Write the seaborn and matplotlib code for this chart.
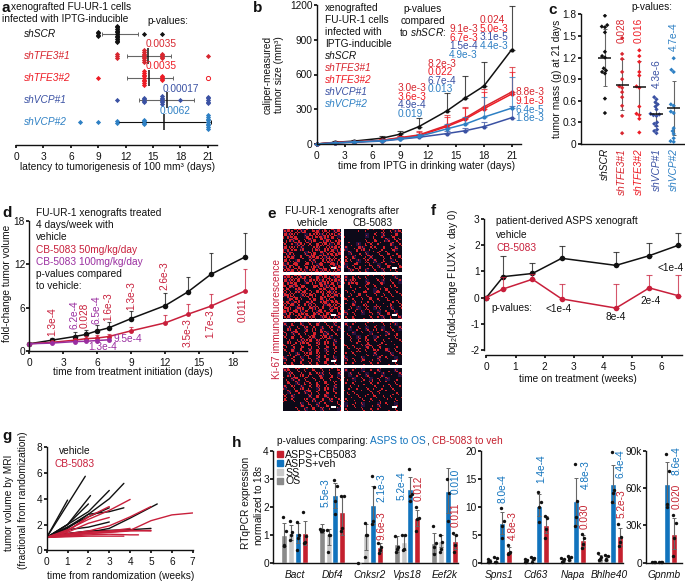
import numpy as np
import pandas as pd
import matplotlib
matplotlib.use("Agg")
import matplotlib.pyplot as plt
import seaborn as sns
from matplotlib.colors import LinearSegmentedColormap
from matplotlib.patches import Patch, Rectangle

W, H = 685, 582
FS = 7.3
BLACK = "#111111"
GREY = "#666666"
TFE1 = "#d7262f"
TFE2 = "#ee1c25"
VCP1 = "#3a51a3"
VCP2 = "#2e80c4"
CB_RED = "#c81f3b"
CB_PURPLE = "#9a2ea0"
H_BLUE = "#1173bd"
H_RED = "#c4202e"

# panel a
a_lines = ["shSCR", "shTFE3#1", "shTFE3#2", "shVCP#1", "shVCP#2"]
a_scr = [9, 9, 9, 9] + [11] * 11 + [14, 16]
a_tfe1 = [11, 11, 11] + [14] * 8 + [16] * 4 + [21]
a_tfe2 = [9] + [14] * 9 + [16] * 4
a_vcp1 = [11] + [14] * 4 + [16] * 6 + [18] + [21] * 5
a_vcp2 = [7, 9, 11, 11] + [14] * 4 + [21] * 9
a_mean = [11.3, 14.5, 14.6, 16.5, 16.2]
a_lo = [9.4, 12.1, 12.1, 13.5, 11.0]
a_hi = [13.3, 17.0, 17.2, 19.5, 21.3]

# panel b
b_days = [0, 2, 4, 7, 9, 11, 14, 16, 18, 21]
b_scr = [0, 15, 25, 50, 85, 150, 285, 397, 500, 815]
b_tfe1 = [0, 12, 18, 32, 55, 78, 160, 225, 320, 449]
b_tfe2 = [0, 12, 18, 30, 52, 72, 150, 215, 305, 432]
b_vcp1 = [0, 8, 15, 25, 42, 58, 90, 115, 150, 227]
b_vcp2 = [0, 10, 18, 28, 45, 65, 130, 172, 232, 310]
b_scr_top = [0, 22, 35, 72, 108, 222, 440, 585, 708, 1190]
b_tfe1_top = [0, 18, 25, 45, 72, 110, 250, 320, 475, 665]
b_tfe2_top = [0, 18, 25, 42, 68, 100, 235, 310, 450, 620]
b_vcp1_top = [0, 12, 20, 30, 52, 70, 110, 140, 190, 328]
b_vcp2_top = [0, 15, 24, 38, 60, 85, 170, 235, 406, 580]

# panel c
c_scr = [1.78, 1.65, 1.63, 1.62, 1.55, 1.28, 1.22, 1.20, 1.05, 1.02, 1.0, 0.98, 0.63, 0.43]
c_tfe1 = [1.47, 1.25, 1.18, 1.0, 0.9, 0.8, 0.78, 0.72, 0.65, 0.53, 0.39, 0.15]
c_tfe2 = [1.3, 1.22, 1.14, 1.0, 0.95, 0.8, 0.78, 0.52, 0.42, 0.40, 0.35, 0.16]
c_vcp1 = [.65, .62, .58, .55, .52, .48, .42, .41, .40, .39, .30, .28, .25, .20, .18, .15]
c_vcp2 = [1.19, 1.03, 1.0, .55, .53, .45, .43, .22, .18, .14, .08, .04, .03]
c_mean = [1.2, 0.82, 0.79, 0.41, 0.5]
c_lo = [0.8, 0.47, 0.42, 0.25, 0.12]
c_hi = [1.6, 1.18, 1.15, 0.57, 0.87]

# panel d
d_days = [0, 2, 4, 5, 6, 7, 9, 12, 14, 16, 19]
d_veh = [1, 1.5, 2.0, 2.3, 2.8, 3.2, 4.5, 6.3, 8.2, 10.6, 13]
d_veh_top = [1, 1.8, 2.6, 2.9, 3.6, 4.0, 5.6, 8, 10.3, 13.6, 16.4]
d_cb50 = [1, 1.2, 1.5, 1.7, 1.8, 2.0, 2.8, 3.9, 5.1, 6.2, 8.3]
d_cb50_top = [1, 1.4, 1.7, 2.1, 2.2, 2.4, 3.3, 5, 6.5, 7.9, 11.4]
d_days100 = [0, 2, 4, 5, 6, 7]
d_cb100 = [1, 1.1, 1.3, 1.35, 1.45, 1.55]
d_cb100_top = [1, 1.2, 1.5, 1.55, 1.7, 1.8]

e_vehicle = [
    ["59285806937258", "86920268959672", "29680589098526", "70269380898259", "85927008809686",
     "68200278095968", "26809168895792", "95280356096829", "68790827580697", "87968529689587"],
    ["78596870958679", "96880597689685", "68769208597968", "85096820895680", "69802869097868",
     "08692058096950", "97860895068796", "69078069580869", "88697806968707", "59086978069695"],
    ["40706050804060", "08050708070605", "50690708095040", "70806089089602", "08057890908050",
     "60807090707080", "50908060905060", "07060890805030", "60905070609050", "30708060708030"],
    ["56070506040306", "07508060750502", "30680705080704", "06040750608060", "50607040708040",
     "04080590706070", "60500070807030", "70400608090605", "00006070507004", "00050408060302"],
]
e_treated = [
    ["00010302080416", "10000105060280", "00000206014062", "03010670300805", "20186052080260",
     "05020301607020", "20603280150608", "62030804060250", "30720160308106", "05260604070360"],
    ["10620402060130", "37810310520401", "06020605030260", "20401701608020", "04080203050403",
     "60203080206010", "10702403010605", "05030802701403", "70402060308020", "20601050240706"],
    ["20300402050310", "01040206010403", "30102030104020", "05020901302060", "02070602050102",
     "60302970801030", "03080406209040", "20500304010503", "40207010602010", "10302040301020"],
    ["10302010401020", "02040301030102", "30105020403010", "10402060203040", "04020305020501",
     "20301040601030", "03040206020402", "40102050301050", "10503010402010", "20104030201030"],
]
e_dither = [[2, 6, 3], [7, 0, 8], [4, 5, 1]]

# panel f
f_weeks = [0, .58, 1.58, 2.58, 4.44, 5.58, 6.58]
f_veh = [0, .8, .92, 1.5, 1.23, 1.6, 2.0]
f_veh_top = [0, 1.57, 1.33, 1.97, 1.74, 2.07, 2.48]
f_cb = [0, .33, .7, -.05, -.4, .37, .07]
f_cb_top = [0, .8, .9, .5, .53, .88, .88]

# panel g
g_veh_x = [[0, 1], [0, 1.85], [0, 1, 2.1], [0, 1, 2], [0, 1, 2, 3], [0, 1, 2, 3, 3.7], [0, 2, 3],
           [0, 1, 2, 3, 3.7], [0, 1, 2, 3], [0, 1, 2, 3, 4, 5.3], [0, 1, 2, 3, 4, 5], [0, 1, 2, 3]]
g_veh_y = [[1, 3.9], [1, 5.75], [1, 2.0, 4.25], [1, 2, 3.6], [1, 2, 3, 4.65], [1, 1.8, 2.8, 4.0, 5.2], [1, 2.6, 3.3],
           [1, 1.7, 2.8, 3.0, 3.3], [1, 1.6, 1.8, 2.2], [1, 1.2, 1.4, 1.7, 2.5, 3.6],
           [1, 1.3, 1.45, 1.55, 1.6, 1.7], [1, 1.3, 1.5, 1.5]]
g_cb_x = [[0, 1, 2, 3, 4], [0, 1, 2, 3, 4, 5], [0, 1, 2, 3, 4, 5, 6, 7], [0, 1, 2, 3], [0, 1, 2, 3], [0, 1, 2],
          [0, 1, 2, 3, 4, 5], [0, 1, 2, 3, 4, 4.4], [0, 1, 2, 3, 3.7], [0, 1, 2, 3, 4], [0, 1, 2, 3, 4, 5]]
g_cb_y = [[1, 1.6, 2.4, 3.1, 3.95], [1, 1.3, 1.5, 1.9, 2.6, 3.4], [1, 1.2, 1.3, 1.4, 1.55, 2.3, 2.75, 2.9],
          [1, 1.5, 2.6, 3.4], [1, 1.4, 2.1, 2.55], [1, 1.5, 2.6], [1, 1.2, 1.4, 1.5, 1.55, 1.5],
          [1, 1.1, 1.2, 1.25, 1.2, 1.2], [1, 1.05, 1.1, 1.1, 1.1], [1, 1.2, 1.4, 1.5, 1.7], [1, 1.15, 1.3, 1.4, 1.5, 1.55]]

# panel h, each row is one gene, columns OS, SS, ASPS+veh, ASPS+CB5083
h_groups = ["OS", "SS", "ASPS+veh", "ASPS+CB5083"]
h1_genes = ["Bact", "Dbf4", "Cnksr2", "Vps18", "Eef2k"]
h1_mean = [[1.0, 1.05, 1.05, 1.07], [1.2, 1.02, 2.42, 1.82], [0, 1.0, 2.05, .55], [.67, .73, 2.63, 1.6], [.7, .78, 2.55, .78]]
h1_lo = [[.6, .8, .7, .63], [1.05, .65, 1.95, 1.0], [0, .45, 1.4, .4], [.4, .45, 2.2, 1.3], [.35, .55, 1.77, .5]]
h1_hi = [[1.43, 1.33, 1.43, 1.5], [1.4, 1.2, 2.85, 2.4], [0, 1.4, 2.75, .72], [.95, 1.0, 3.05, 1.9], [1.07, 1.0, 3.37, 1.0]]
h1_pts = [[[1.63, 1.15, .65, .6], [1.5, 1.1, 1.0, .8], [1.45, 1.0, .9, .45], [1.82, .95, .75, .7]],
          [[1.2, 1.18, 1.15, 1.14], [1.18, 1.0, .98, .4], [2.95, 2.75, 2.2, 1.75], [2.4, 2.38, 1.25, 1.15]],
          [[0], [1.42, 1.0, 1.0, .2], [3.08, 2.7, 1.5, 1.4], [.72, .55, .45, .35]],
          [[.95, .55, .5, .4], [1.0, 1.0, .5, .45], [3.35, 2.45, 2.4, 2.2], [2.0, 1.6, 1.55, 1.15]],
          [[1.3, .7, .55, .3], [.98, .75, .5, .4], [3.0, 2.5, 1.5], [1.05, 1.0, .63, .4]]]
h2_genes = ["Spns1", "Cd63", "Napa", "Bhlhe40"]
h2_mean = [[.3, .4, 7.1, 2.1], [.4, .7, 10.2, 6.8], [.5, .8, 11, 4], [.9, .9, 14, 4.7]]
h2_lo = [[.1, .1, 5.2, 1.5], [.2, .4, 8.3, 5.3], [.3, .5, 6.8, 2.8], [.4, .5, 10.6, 2.9]]
h2_hi = [[.6, .8, 9.0, 2.8], [.6, 1.0, 12.2, 8.3], [.7, 1.1, 15.2, 5], [1.4, 1.3, 17.5, 6.2]]
h2_pts = [[[.7, .3, .1, .05], [1.0, .9, .1, .1], [9.8, 7.5, 6.5, 4.5], [3.1, 2.0, 1.7, 1.5]],
          [[.7, .5, .2, .1], [1.0, .9, .6, .2], [12.6, 10.9, 9.9, 7.2], [8.3, 8.0, 6.0, 4.5]],
          [[.8, .6, .3, .2], [1.2, 1.1, .8, .5], [17.7, 11, 8.2, 6.6], [5.2, 4.4, 3.3, 2.6]],
          [[1.8, 1.0, .7, .4], [1.4, 1.2, .6, .5], [19.8, 12.9, 12.4, 10.9], [7.0, 4.6, 3.7, 3.0]]]
h3_genes = ["Gpnmb"]
h3_mean = [[500, 500, 63000, 23000]]
h3_lo = [[300, 300, 46000, 11000]]
h3_hi = [[700, 700, 81000, 36000]]
h3_pts = [[[500, 500, 500], [500, 500, 500], [87000, 74000, 47000, 45000], [38000, 32000, 20000, 5000]]]

sns.set_theme(style="ticks")
plt.rcParams["font.family"] = ["Liberation Sans", "DejaVu Sans"]
plt.rcParams["mathtext.fontset"] = "custom"
plt.rcParams["mathtext.rm"] = "Liberation Sans"
plt.rcParams["mathtext.it"] = "Liberation Sans:italic"
plt.rcParams["text.color"] = BLACK
plt.rcParams["axes.edgecolor"] = BLACK
plt.rcParams["axes.linewidth"] = 1.0
plt.rcParams["xtick.color"] = BLACK
plt.rcParams["ytick.color"] = BLACK
plt.rcParams["xtick.major.size"] = 2.5
plt.rcParams["ytick.major.size"] = 2
plt.rcParams["xtick.major.pad"] = 2.2
plt.rcParams["ytick.major.pad"] = 1
plt.rcParams["xtick.labelsize"] = FS
plt.rcParams["ytick.labelsize"] = FS

fig = plt.figure(figsize=(W / 100, H / 100), dpi=100, facecolor="white")


def px_axes(left, top, right, bottom):
    ax = fig.add_axes([left / W, 1 - bottom / H, (right - left) / W, (bottom - top) / H], facecolor="none")
    sns.despine(ax=ax)
    return ax


def put(x, y, s, color=BLACK, size=FS, **kw):
    kw.setdefault("va", "center")
    fig.text(x / W, 1 - y / H, s, color=color, fontsize=size, **kw)


def rot(x, y, s, color=BLACK, size=FS, **kw):
    put(x, y, s, color, size, rotation=90, ha="center", **kw)


def line_with_tops(ax, x, y, top, color, ms=3.5, cap=1.5):
    ax.errorbar(x, y, yerr=[np.zeros(len(y)), np.array(top) - np.array(y)], fmt="none",
                ecolor=color, elinewidth=0.8, capsize=cap, capthick=0.8, alpha=0.75, clip_on=False)
    sns.lineplot(x=x, y=y, color=color, marker="o", markersize=ms, markeredgewidth=0,
                 linewidth=1.1, errorbar=None, sort=False, ax=ax, clip_on=False)


def stacked(values, row, step=0.075):
    # equal latencies pile up as a vertical column centred on the row
    vals, counts = np.unique(values, return_counts=True)
    xs, ys = [], []
    for v, n in zip(vals, counts):
        xs += [v] * n
        ys += list(row + (np.arange(n) - (n - 1) / 2) * step)
    return xs, ys


# a
ax = px_axes(16, 22, 217, 145)
a_colors = [BLACK, TFE1, TFE2, VCP1, VCP2]
for i, vals in enumerate([a_scr, a_tfe1, a_tfe2, a_vcp1, a_vcp2]):
    sx, sy = stacked(vals, i)
    sns.scatterplot(x=sx, y=sy, color=a_colors[i], marker="D", s=7, linewidth=0, legend=False, ax=ax, zorder=3)
ax.scatter([21], [2], s=9, facecolor="white", edgecolor=TFE2, linewidth=0.7, zorder=4)
for i in range(5):
    ax.errorbar(a_mean[i], i, xerr=[[a_mean[i] - a_lo[i]], [a_hi[i] - a_mean[i]]], fmt="none", ecolor=GREY if i < 4 else BLACK,
                elinewidth=0.8, capsize=1.5, capthick=0.7, zorder=1)
    ax.vlines(a_mean[i], i - 0.35, i + 0.35, color=BLACK, linewidth=1.1, zorder=5)
ax.set_xlim(0, 22)
ax.set_ylim(5.045, -0.545)
ax.set_xticks(range(0, 22, 3))
ax.set_yticks([])
ax.spines["left"].set_visible(False)
put(2, 8, "a", size=11, fontweight="bold")
put(11, 7.5, "xenografted FU-UR-1 cells")
put(2, 19, "infected with IPTG-inducible")
put(147, 21, "p-values:")
for i, n in enumerate(a_lines):
    put(24, 34 + 22 * i, n, a_colors[i], style="italic")
put(146, 44, "0.0035", TFE1)
put(146, 66, "0.0035", TFE2)
put(163, 89, "0.00017", VCP1)
put(160, 111, "0.0062", VCP2)
put(117, 167, "latency to tumorigenesis of 100 mm³ (days)", ha="center")

# b
ax = px_axes(316.7, 5, 521, 144)
for y_vals, tops, col in zip([b_scr, b_tfe1, b_tfe2, b_vcp1, b_vcp2],
                             [b_scr_top, b_tfe1_top, b_tfe2_top, b_vcp1_top, b_vcp2_top],
                             [BLACK, TFE1, TFE2, VCP1, VCP2]):
    line_with_tops(ax, b_days, y_vals, tops, col, ms=3, cap=2)
ax.set_xlim(0, 22)
ax.set_ylim(0, 1200)
ax.set_xticks(range(0, 22, 3))
ax.set_yticks(range(0, 1201, 300))
put(253, 8, "b", size=11, fontweight="bold")
b_text = ["xenografted", "FU-UR-1 cells", "infected with", "IPTG-inducible"]
for i, s in enumerate(b_text):
    put(325, 8 + 12.1 * i, s)
for i, (n, c) in enumerate(zip(a_lines, a_colors)):
    put(325, 56 + 12.1 * i, n, c, style="italic")
put(423, 8.5, "p-values", ha="center")
put(423, 20.5, "compared", ha="center")
put(423, 32, r"to $\mathit{shSCR}$:", ha="center")
b_colors = [TFE1, TFE2, VCP1, VCP2]
for s, y, c in zip(["3.0e-3", "3.6e-3", "4.9e-4", "0.019"], [88, 97, 105, 114], b_colors):
    put(398, y, s, c)
for s, y, c in zip(["8.2e-3", "0.022", "6.7e-4", "0.013"], [64, 72, 81, 89], b_colors):
    put(428, y, s, c)
for s, y, c in zip(["9.1e-3", "6.7e-3", "1.5e-4", "4.9e-3"], [29, 37.7, 46, 54.6], b_colors):
    put(449, y, s, c)
for s, y, c in zip(["0.024", "5.0e-3", "3.1e-5", "4.4e-3"], [20, 28.7, 37.5, 46], b_colors):
    put(480, y, s, c)
for s, y, c in zip(["8.8e-3", "9.1e-3", "6.4e-5", "1.8e-3"], [92, 101, 110, 118], [TFE1, TFE2, VCP2, VCP2]):
    put(515, y, s, c)
rot(268, 75, "caliper-measured")
rot(279.5, 75, "tumor size (mm³)")
put(427, 166, "time from IPTG in drinking water (days)", ha="center")

# c
ax = px_axes(580.7, 14.3, 684, 144)
c_df = pd.concat([pd.DataFrame({"line": n, "mass": v}) for n, v in zip(a_lines, [c_scr, c_tfe1, c_tfe2, c_vcp1, c_vcp2])])
sns.swarmplot(data=c_df, x="line", y="mass", order=a_lines, hue="line", hue_order=a_lines, palette=a_colors,
              marker="D", size=2.2, legend=False, ax=ax, warn_thresh=1)
for i in range(5):
    ax.errorbar(i, c_mean[i], yerr=[[c_mean[i] - c_lo[i]], [c_hi[i] - c_mean[i]]], fmt="none", ecolor=GREY,
                elinewidth=0.8, capsize=1.5, capthick=0.7, zorder=1)
    ax.hlines(c_mean[i], i - 0.38, i + 0.38, color=BLACK, linewidth=1.1, zorder=5)
ax.set_xlim(-1.41, 4.6)
ax.set_ylim(0, 1.8)
ax.set_yticks(np.arange(0, 1.81, 0.3))
ax.set_yticklabels(["0", "0.3", "0.6", "0.9", "1.2", "1.5", "1.8"])
ax.set_xlabel("")
ax.set_ylabel("")
ax.set_xticks(range(5))
ax.set_xticklabels(a_lines, rotation=90, style="italic")
for lab, col in zip(ax.get_xticklabels(), a_colors):
    lab.set_color(col)
ax.tick_params(axis="x", length=0, pad=3)
put(548, 10, "c", size=11, fontweight="bold")
put(631, 7, "p-values:")
rot(622, 30, "0.028", TFE1)
rot(639, 30, "0.016", TFE2)
rot(657, 74, "4.3e-6", VCP1)
rot(674, 37, "4.7e-4", VCP2)
rot(557, 79, "tumor mass (g) at 21 days")

# d
ax = px_axes(29.3, 221, 247, 351)
line_with_tops(ax, d_days, d_veh, d_veh_top, BLACK, ms=4, cap=1.5)
line_with_tops(ax, d_days, d_cb50, d_cb50_top, CB_RED, ms=3.5, cap=1.5)
line_with_tops(ax, d_days100, d_cb100, d_cb100_top, CB_PURPLE, ms=3.5, cap=1)
ax.set_xlim(0, 19.2)
ax.set_ylim(0, 18)
ax.set_xticks(range(0, 19, 3))
ax.set_yticks(range(0, 19, 6))
put(2, 213, "d", size=11, fontweight="bold")
d_text = ["FU-UR-1 xenografts treated", "4 days/week with", "vehicle", "CB-5083 50mg/kg/day",
          "CB-5083 100mg/kg/day", "p-values compared", "to vehicle:"]
d_text_colors = [BLACK, BLACK, BLACK, CB_RED, CB_PURPLE, BLACK, BLACK]
for i, (s, c) in enumerate(zip(d_text, d_text_colors)):
    put(36, 213 + 12.2 * i, s, c)
rot(7, 283, "fold-change tumor volume")
put(133, 372, "time from treatment initiation (days)", ha="center")
d_p_x = [52, 74, 85, 97, 108, 131, 164, 188, 210, 243]
d_p_y = [322, 315, 315, 310, 307, 296, 276, 333, 324, 310]
d_p_s = ["1.3e-4", "6.2e-4", "0.028", "6.5e-4", "1.6e-3", "1.3e-3", "2.6e-3", "3.5e-3", "1.7e-3", "0.011"]
d_p_c = [CB_RED, CB_PURPLE, CB_RED, CB_PURPLE, CB_RED, CB_RED, CB_RED, CB_RED, CB_RED, CB_RED]
for x, y, s, c in zip(d_p_x, d_p_y, d_p_s, d_p_c):
    rot(x, y, s, c)
put(114, 339, "9.5e-4", CB_PURPLE)
put(88, 347, "1.3e-4", CB_PURPLE)

# e
e_cmap = LinearSegmentedColormap.from_list("ki67", ["#0c0918", "#24123e", "#d8222c"])
e_rows = [(229, 272), (275, 319), (322, 365), (368, 411)]
for (top, bottom), veh, cb in zip(e_rows, e_vehicle, e_treated):
    for (left, right), grid in zip([(283, 341), (344, 402)], [veh, cb]):
        ax = fig.add_axes([left / W, 1 - bottom / H, (right - left) / W, (bottom - top) / H])
        cells = np.array([[int(ch) for ch in row] for row in grid])
        # halftone each coarse cell into fine speckle, lit share follows the intensity read
        fine = np.zeros((cells.shape[0] * 3, cells.shape[1] * 3))
        for r in range(cells.shape[0]):
            for c in range(cells.shape[1]):
                tile = np.roll(np.array(e_dither), (r * r + c, c * c + 2 * r), axis=(0, 1))
                base = 0.5 if cells[r, c] and (r * 3 + c * 5) % 4 == 0 else 0.0
                fine[r * 3:r * 3 + 3, c * 3:c * 3 + 3] = np.where(tile < cells[r, c] * 0.55, 1.0, base)
        sns.heatmap(fine, cmap=e_cmap, vmin=0, vmax=1, cbar=False, xticklabels=False, yticklabels=False, ax=ax)
        ax.add_patch(Rectangle((0.92, 0.07), -0.095, 0.055, transform=ax.transAxes, facecolor="white", edgecolor="none"))
put(272, 214, "e", size=11, fontweight="bold", ha="center")
put(342, 211, "FU-UR-1 xenografts after", ha="center")
put(313, 223, "vehicle", ha="center")
put(373, 223, "CB-5083", ha="center")
rot(277, 319, "Ki-67 immunofluorescence", CB_RED)

# f
ax = px_axes(486.3, 219, 681.7, 350)
line_with_tops(ax, f_weeks, f_veh, f_veh_top, BLACK, ms=4, cap=2)
line_with_tops(ax, f_weeks, f_cb, f_cb_top, CB_RED, ms=4, cap=2)
ax.set_xlim(0, 6.69)
ax.set_ylim(-2, 3)
ax.set_xticks(range(0, 7))
ax.set_yticks(range(-2, 4))
ax.spines["left"].set_position(("outward", 1.8))
ax.spines["bottom"].set_position(("outward", 3.6))
ax.set_yticklabels(["-2", "-1", "0", "1", "2", "3"])
put(433, 211, "f", size=11, fontweight="bold", ha="center")
put(496, 221, "patient-derived ASPS xenograft")
put(496, 235.5, "vehicle")
put(496, 248, "CB-5083", CB_RED)
put(491, 308, "p-values:")
put(545, 309, "<1e-4")
put(616, 317, "8e-4", ha="center")
put(651, 301, "2e-4", ha="center")
put(684, 268, "<1e-4", ha="right")
rot(453, 282, r"log$_{2}$(fold-change FLUX v. day 0)")
put(578, 379, "time on treatment (weeks)", ha="center")

# g
ax = px_axes(46.7, 447.3, 192.7, 550.3)
for xs, ys, col in [(g_veh_x, g_veh_y, BLACK), (g_cb_x, g_cb_y, CB_RED)]:
    g_df = pd.concat([pd.DataFrame({"mouse": i, "weeks": x, "volume": y}) for i, (x, y) in enumerate(zip(xs, ys))])
    sns.lineplot(data=g_df, x="weeks", y="volume", units="mouse", estimator=None, color=col, linewidth=1.0, sort=False, ax=ax)
ax.set_xlim(0, 7)
ax.set_ylim(0, 8)
ax.set_xticks(range(0, 8))
ax.set_yticks(range(0, 9, 2))
ax.set_xlabel("")
ax.set_ylabel("")
put(2, 436, "g", size=11, fontweight="bold")
put(75, 451, "vehicle", ha="center")
put(75, 464, "CB-5083", CB_RED, ha="center")
rot(9.5, 503, "tumor volume by MRI")
rot(22.7, 500, "(fractional from randomization)")
put(120.7, 575.7, "time from randomization (weeks)", ha="center")

# h
h_colors = {"OS": "#8a8a8a", "SS": "#c9c9c9", "ASPS+veh": H_BLUE, "ASPS+CB5083": H_RED}
BAR_SPAN = 0.725


def draw_bars(ax, genes, means, los, his, pts):
    rows = []
    for g, m in zip(genes, means):
        for grp, v in zip(h_groups, m):
            rows.append({"gene": g, "group": grp, "value": v})
    sns.barplot(data=pd.DataFrame(rows), x="gene", y="value", hue="group", order=genes, hue_order=h_groups,
                palette=h_colors, width=BAR_SPAN, gap=0.12, errorbar=None, saturation=1, legend=False, ax=ax)
    xs, ys = [], []
    for i in range(len(genes)):
        for j in range(4):
            cx = i + (j - 1.5) * BAR_SPAN / 4
            ax.errorbar(cx, means[i][j], yerr=[[means[i][j] - los[i][j]], [his[i][j] - means[i][j]]], fmt="none",
                        ecolor=GREY, elinewidth=0.8, capsize=1.5, capthick=0.7, zorder=3)
            for k, v in enumerate(pts[i][j]):
                xs.append(cx + [-0.035, 0.035, 0.0, -0.02][k])
                ys.append(v)
    sns.scatterplot(x=xs, y=ys, color=BLACK, s=6, linewidth=0, zorder=4, clip_on=False, legend=False, ax=ax)
    ax.set_xlabel("")
    ax.set_ylabel("")
    ax.set_xticks(range(len(genes)))
    ax.set_xticklabels(genes, style="italic")
    ax.tick_params(axis="x", length=0, pad=5)


ax = px_axes(273, 450.7, 458, 562.7)
draw_bars(ax, h1_genes, h1_mean, h1_lo, h1_hi, h1_pts)
ax.set_xlim(-0.573, 4.36)
ax.set_ylim(0, 4)
ax.set_yticks(range(5))
ax.legend(handles=[Patch(color=h_colors[g], label=g) for g in h_groups[::-1]], loc="upper left",
          bbox_to_anchor=(0.024, 1.005), frameon=False, fontsize=7.6, labelspacing=-0.12,
          handlelength=0.5, handleheight=0.5, handletextpad=0.25, borderpad=0, borderaxespad=0)

ax = px_axes(481, 450.7, 623, 562.7)
draw_bars(ax, h2_genes, h2_mean, h2_lo, h2_hi, h2_pts)
ax.set_xlim(-0.488, 3.36)
ax.set_ylim(0, 20)
ax.set_yticks(range(0, 21, 5))

ax = px_axes(646, 450.7, 682, 562.7)
draw_bars(ax, h3_genes, h3_mean, h3_lo, h3_hi, h3_pts)
ax.set_xlim(-0.48, 0.48)
ax.set_ylim(0, 90000)
ax.set_yticks([0, 30000, 60000, 90000])
ax.set_yticklabels(["0", "30k", "60k", "90k"])

put(237, 443, "h", size=11, fontweight="bold", ha="center")
put(276.7, 441, "p-values comparing: ")
put(370, 441, "ASPS to OS", H_BLUE)
put(426, 441, ",")
put(432, 441, "CB-5083 to veh", H_RED)
rot(245.7, 503, "RTqPCR expression")
rot(258, 505, r"normalized to $\mathit{18s}$")
h_p_x = [326, 381.7, 381.7, 402, 419, 455.7, 456, 503, 512.7, 541, 586, 585, 621, 622, 676.7, 676.7]
h_p_y = [493, 488, 526, 486, 488, 481, 515, 489, 526, 469, 475, 516, 464, 504, 461, 496]
h_p_s = ["5.5e-3", "2.1e-3", "9.6e-3", "5.2e-4", "0.012", "0.010", "0.011", "8.0e-4", "4.8e-3", "1.4e-4",
         "4.8e-3", "0.030", "6.4e-4", "5.2e-3", "8.6e-4", "0.020"]
h_p_c = [H_BLUE, H_BLUE, H_RED, H_BLUE, H_RED, H_BLUE, H_RED, H_BLUE, H_RED, H_BLUE,
         H_BLUE, H_RED, H_BLUE, H_RED, H_BLUE, H_RED]
for x, y, s, c in zip(h_p_x, h_p_y, h_p_s, h_p_c):
    rot(x, y, s, c)

fig.savefig("out.png", dpi=100, facecolor="white")
